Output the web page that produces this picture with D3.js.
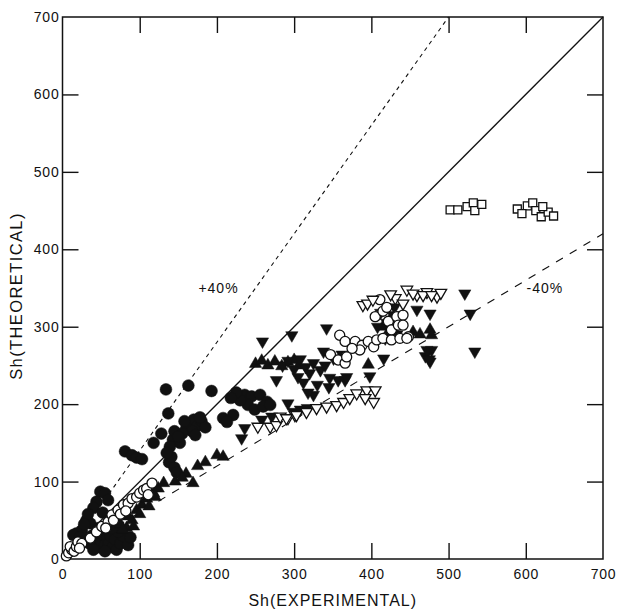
<!DOCTYPE html>
<html>
<head>
<meta charset="utf-8">
<script src="https://cdn.jsdelivr.net/npm/d3@7"></script>
<style>
  html, body { margin: 0; padding: 0; background: #fff; }
  svg text { font-family: "Liberation Sans", Arial, Helvetica, sans-serif; fill: #111; }
</style>
</head>
<body>
<svg id="chart" width="628" height="614"></svg>
<script>
// Sherwood number comparison: theoretical vs experimental, several data sets.
const tickValues = [0, 100, 200, 300, 400, 500, 600, 700];
const xTitle = "Sh(EXPERIMENTAL)";
const yTitle = "Sh(THEORETICAL)";

// Reference lines: perfect agreement and ±40 % bands
const guideFactors = [1.0, 1.4, 0.6];
const guideLabels = ["", "+40%", "-40%"];

// Filled circles
const filledCircles = [
  [30,25],[35,20],[38,30],[42,22],[45,28],[48,15],[50,24],[52,32],[55,18],[58,28],
  [60,20],[62,30],[65,15],[68,25],[40,12],[55,10],[25,37],[18,33],[14,31],[31,50],
  [36,46],[22,28],[70,12],[75,20],[78,30],[72,35],[85,18],[88,28],[64,40],[47,40],
  [49,87],[55,85],[44,74],[59,76],[40,66],[33,58],[28,45],[52,60],
  [81,139],[90,134],[96,131],[103,129],[138,125],[145,118],[148,112],[141,132],
  [143,154],[152,150],[139,145],[135,137],[128,162],[145,165],[118,150],
  [134,219],[163,224],[193,217],[137,188],
  [160,168],[165,175],[170,180],[175,172],[180,178],[185,170],[168,165],[178,183],
  [155,162],[150,158],[172,160],[158,178],
  [208,182],[221,186],[213,177],[236,212],[245,210],[256,212],[265,203],[240,199],
  [249,193],[260,197],[269,199],[230,205],[225,215],[218,208]
];

// Open circles
const openCircles = [
  [5,4],[8,8],[12,12],[10,16],[15,10],[18,16],[20,22],[25,20],[22,14],
  [36,27],[44,35],[51,42],[59,48],[64,57],[72,63],[79,70],[85,72],[90,78],[96,80],
  [100,85],[105,89],[109,91],[116,98],[111,83],[56,40],[66,50],[75,58],[82,62],
  [359,289],[366,281],[379,281],[388,276],[396,281],[403,274],[385,270],[375,272],
  [347,264],[357,257],[366,253],[368,261],[411,335],[405,313],[415,320],[422,307],
  [407,283],[415,285],[426,283],[437,285],[448,287],[433,313],[441,315],[426,296],
  [435,302],[441,302],[446,285],[420,325]
];

// Filled upward triangles
const filledUp = [
  [85,55],[83,40],[96,63],[103,70],[109,78],[118,85],[124,91],[131,98],[120,80],
  [146,100],[169,98],[200,134],[208,132],[160,110],[175,120],[185,125],[155,105],
  [75,45],[90,50],[78,38],[92,42],[100,58],[112,68],
  [250,252],[258,256],[266,250],[275,255],[284,249],[292,254],[300,257],[306,250],
  [396,251],[454,293],[463,290],[476,296],[478,289],
  [415,300],[425,310],[430,295],[420,290]
];

// Filled downward triangles
const filledDown = [
  [259,281],[297,289],[277,231],[292,201],[258,180],[271,184],[236,169],[232,156],
  [342,298],[459,322],[476,317],[521,343],[528,317],[534,268],[478,270],[476,255],
  [416,259],[398,236],[338,268],[351,259],[362,264],
  [285,250],[292,256],[300,245],[308,258],[315,248],
  [325,253],[334,244],[346,234],[357,231],[366,231],[368,235],[325,212],
  [299,190],[308,193],[317,195],
  [305,235],[312,228],[320,240],[340,250],[330,225],[318,215],[345,222],
  [412,318],[420,305],[428,315],[433,290],[418,285],[408,300],[430,325],
  [470,262],[472,270],[475,258]
];

// Open downward triangles
const openDown = [
  [253,171],[269,171],[277,173],[292,182],[301,186],[282,184],[290,182],[303,186],
  [316,190],[329,195],[342,197],[355,199],[364,203],[372,208],[381,214],[394,218],
  [405,218],[403,203],[392,208],
  [389,328],[431,337],[446,348],[459,341],[472,345],[485,339],[454,343],[467,341],
  [441,330],[478,341],[395,330],[402,335],[490,344],[425,342]
];

// Open squares
const openSquares = [
  [502,451],[512,451],[524,455],[532,460],[534,450],[543,458],
  [589,452],[602,456],[609,460],[595,446],[613,450],[620,442],[629,448],[636,443],[622,455]
];

const svg = d3.select("#chart");
const x = d3.scaleLinear().domain([0, 700]).range([62.5, 603]);
const y = d3.scaleLinear().domain([0, 700]).range([559, 17]);

const innerTicks = tickValues.filter(v => v > 0 && v < 700);

// Axes: ticks point inward on all four sides
const axisB = svg.append("g").attr("transform", `translate(0,${y(0)})`)
  .call(d3.axisBottom(x).tickValues(tickValues).tickSizeInner(-16).tickSizeOuter(0).tickPadding(10));
const axisL = svg.append("g").attr("transform", `translate(${x(0)},0)`)
  .call(d3.axisLeft(y).tickValues(tickValues).tickSizeInner(-16).tickSizeOuter(0).tickPadding(3));
const axisT = svg.append("g").attr("transform", `translate(0,${y(700)})`)
  .call(d3.axisTop(x).tickValues(innerTicks).tickSizeInner(-16).tickSizeOuter(0).tickFormat(""));
const axisR = svg.append("g").attr("transform", `translate(${x(700)},0)`)
  .call(d3.axisRight(y).tickValues(innerTicks).tickSizeInner(-16).tickSizeOuter(0).tickFormat(""));

[axisB, axisL, axisT, axisR].forEach(g => {
  g.select(".domain").remove();
  g.selectAll(".tick line").attr("stroke", "#111").attr("stroke-width", 1.4);
  g.selectAll(".tick text").attr("font-size", 14).attr("fill", "#111").attr("letter-spacing", 0.8);
});
axisB.selectAll(".tick line").filter(d => d === 0 || d === 700).remove();
axisL.selectAll(".tick line").filter(d => d === 0 || d === 700).remove();

// Plot frame
svg.append("rect")
  .attr("x", x(0)).attr("y", y(700))
  .attr("width", x(700) - x(0)).attr("height", y(0) - y(700))
  .attr("fill", "none").attr("stroke", "#111").attr("stroke-width", 1.5);

// Axis titles
svg.append("text").attr("x", (x(0) + x(700)) / 2).attr("y", 606)
  .attr("text-anchor", "middle").attr("font-size", 16).attr("letter-spacing", 1)
  .text(xTitle);
svg.append("text").attr("transform", `translate(22,296) rotate(-90)`)
  .attr("text-anchor", "middle").attr("font-size", 16.5).attr("letter-spacing", 1.4)
  .text(yTitle);

// Guide lines
const dashes = ["none", "4,4", "8,8"];
const widths = [1.3, 1.1, 1.1];
guideFactors.forEach((f, i) => {
  const xEnd = Math.min(700, 700 / f);
  svg.append("path")
    .attr("d", d3.line().x(d => x(d[0])).y(d => y(d[1]))([[0, 0], [xEnd, xEnd * f]]))
    .attr("fill", "none").attr("stroke", "#111")
    .attr("stroke-width", widths[i]).attr("stroke-dasharray", dashes[i]);
});
svg.append("text").attr("x", x(176)).attr("y", y(344)).attr("font-size", 14)
  .attr("letter-spacing", 1).text(guideLabels[1]);
svg.append("text").attr("x", x(601)).attr("y", y(344)).attr("font-size", 14)
  .attr("letter-spacing", 1).text(guideLabels[2]);

// Markers
const plot = svg.append("g");
function drawSeries(data, type, size, filled, rotate) {
  plot.append("g").selectAll("path").data(data).join("path")
    .attr("transform", d => `translate(${x(d[0])},${y(d[1])})${rotate ? " rotate(180)" : ""}`)
    .attr("d", d3.symbol().type(type).size(size)())
    .attr("fill", filled ? "#111" : "#fff")
    .attr("stroke", "#111")
    .attr("stroke-width", filled ? 0.5 : 1.3);
}
drawSeries(filledCircles, d3.symbolCircle, 110, true, false);
drawSeries(filledUp, d3.symbolTriangle, 65, true, false);
drawSeries(filledDown, d3.symbolTriangle, 65, true, true);
drawSeries(openCircles, d3.symbolCircle, 80, false, false);
drawSeries(openDown, d3.symbolTriangle, 58, false, true);
drawSeries(openSquares, d3.symbolSquare, 64, false, false);
</script>
</body>
</html>
